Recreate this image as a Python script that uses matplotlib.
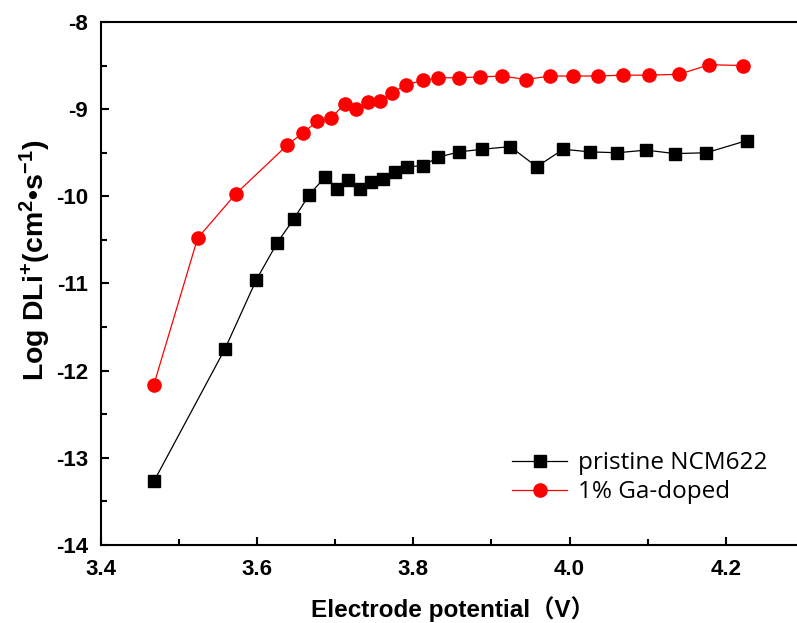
import matplotlib
matplotlib.use("Agg")
import matplotlib.pyplot as plt
from matplotlib.ticker import MultipleLocator

plt.rcParams['mathtext.fontset'] = 'custom'
plt.rcParams['mathtext.rm'] = 'Liberation Sans:bold'
plt.rcParams['mathtext.bf'] = 'Liberation Sans:bold'
plt.rcParams['mathtext.it'] = 'Liberation Sans:bold'
plt.rcParams['axes.unicode_minus'] = False

pristine_x = [3.468, 3.559, 3.599, 3.626, 3.647, 3.667, 3.687, 3.702, 3.717, 3.732,
              3.746, 3.761, 3.777, 3.792, 3.812, 3.832, 3.859, 3.888, 3.924, 3.958,
              3.992, 4.026, 4.061, 4.098, 4.135, 4.175, 4.227]
pristine_y = [-13.27, -11.75, -10.96, -10.53, -10.26, -9.98, -9.78, -9.92, -9.81, -9.92,
              -9.83, -9.80, -9.72, -9.66, -9.65, -9.55, -9.49, -9.46, -9.43, -9.66,
              -9.46, -9.49, -9.50, -9.47, -9.51, -9.50, -9.36]

doped_x = [3.468, 3.524, 3.573, 3.639, 3.659, 3.677, 3.695, 3.712, 3.727, 3.742,
           3.757, 3.773, 3.791, 3.812, 3.832, 3.858, 3.885, 3.914, 3.944, 3.975,
           4.005, 4.036, 4.068, 4.102, 4.140, 4.179, 4.222]
doped_y = [-12.16, -10.48, -9.97, -9.41, -9.27, -9.14, -9.10, -8.94, -9.00, -8.92,
           -8.91, -8.81, -8.72, -8.67, -8.64, -8.64, -8.63, -8.62, -8.66, -8.62,
           -8.62, -8.62, -8.61, -8.61, -8.60, -8.49, -8.50]

labels = ["pristine NCM622", "1% Ga-doped"]

fig = plt.figure(figsize=(7.97, 6.23), dpi=100)
ax = fig.add_axes([0.1264, 0.1252, 0.8824, 0.8395])

ax.plot(pristine_x, pristine_y, color='black', lw=0.9, marker='s', ms=8,
        label=labels[0])
ax.plot(doped_x, doped_y, color='#ff0000', lw=0.9, marker='o', ms=9.5,
        label=labels[1])

ax.set_xlim(3.4, 4.3)
ax.set_ylim(-14, -8)
ax.xaxis.set_major_locator(MultipleLocator(0.2))
ax.xaxis.set_minor_locator(MultipleLocator(0.1))
ax.yaxis.set_major_locator(MultipleLocator(1))
ax.yaxis.set_minor_locator(MultipleLocator(0.5))
ax.xaxis.set_major_formatter(plt.FuncFormatter(lambda v, p: f"{v:.1f}"))
ax.yaxis.set_major_formatter(plt.FuncFormatter(lambda v, p: f"{int(round(v))}"))

ax.tick_params(which='both', direction='in', width=1.5, top=False, right=False)
ax.tick_params(which='major', length=6, labelsize=16)
ax.tick_params(axis='x', which='major', pad=10)
ax.tick_params(axis='y', which='major', pad=9)
ax.tick_params(which='minor', length=4)
for lab in ax.get_xticklabels() + ax.get_yticklabels():
    lab.set_fontfamily('Liberation Sans')
    lab.set_fontweight('bold')
for s in ax.spines.values():
    s.set_linewidth(1.5)

ax.set_xlabel("Electrode potential（V）", fontsize=17.5, fontweight='bold',
              family=['Liberation Sans', 'Noto Sans CJK SC'], labelpad=12)
ax.set_ylabel(r"Log DLi$^{+}$(cm$^{2}$•s$^{-1}$)", fontsize=20.5, fontweight='bold',
              family=['Liberation Sans', 'DejaVu Sans'])
ax.yaxis.set_label_coords(-0.068, 0.545)

leg = ax.legend(loc='lower left', bbox_to_anchor=(0.585, 0.078), frameon=False,
                prop={'family': 'Open Sans', 'size': 17.5}, handlelength=2.26,
                handletextpad=0.45, labelspacing=0.2, borderpad=0, borderaxespad=0)

fig.savefig("out.png", dpi=100)
